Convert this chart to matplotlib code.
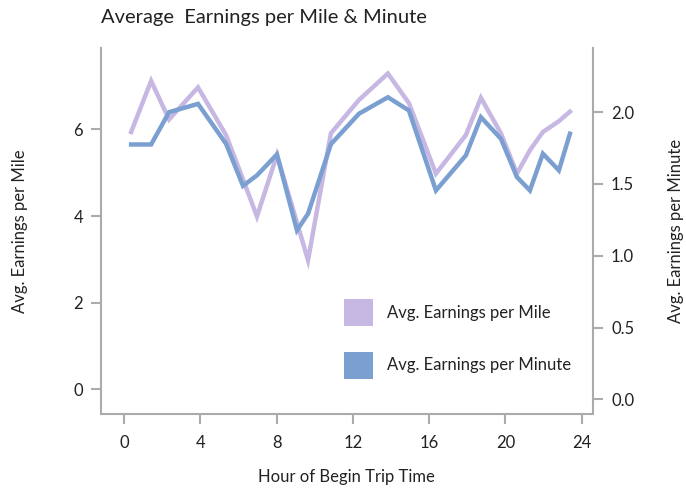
import matplotlib
matplotlib.use('Agg')
import matplotlib.pyplot as plt
from matplotlib.patches import Patch

# data
hours = [0.37, 1.42, 2.36, 3.88, 5.35, 6.24, 6.97, 8.02, 9.07, 9.65, 10.85, 12.32,
         13.84, 14.94, 16.36, 17.93, 18.72, 19.77, 20.61, 21.29, 21.97, 22.81, 23.39]
per_mile = [5.94, 7.12, 6.23, 6.97, 5.87, 4.85, 3.99, 5.41, 3.85, 2.98, 5.91, 6.68,
            7.29, 6.61, 4.98, 5.87, 6.73, 5.91, 4.98, 5.52, 5.94, 6.19, 6.41]
per_minute = [1.775, 1.775, 2.0, 2.058, 1.78, 1.487, 1.56, 1.706, 1.177, 1.293, 1.777, 1.989,
              2.104, 2.012, 1.455, 1.699, 1.965, 1.815, 1.548, 1.455, 1.711, 1.595, 1.85]

purple = '#c7b7e3'
blue = '#7b9fd0'
grey = '#ababab'
txt = '#222222'

plt.rcParams['font.family'] = ['Lato', 'DejaVu Sans']

fig = plt.figure(figsize=(6.86, 4.91), dpi=100)
ax = fig.add_axes([101/686, 1-414/491, (593-101)/686, (414-48)/491])
ax2 = ax.twinx()

ax.plot(hours, per_mile, color=purple, lw=3.2, solid_joinstyle='miter')
ax2.plot(hours, per_minute, color=blue, lw=3.2, solid_joinstyle='miter')

ax.set_xlim(-1.21, 24.6)
ax.set_ylim(-0.57, 7.88)
ax2.set_ylim(-0.102, 2.447)
ax.set_xticks(range(0, 25, 4))
ax.set_yticks([0, 2, 4, 6])
ax2.set_yticks([0.0, 0.5, 1.0, 1.5, 2.0])
ax2.set_yticklabels(['0.0', '0.5', '1.0', '1.5', '2.0'])

for a in (ax, ax2):
    a.spines['top'].set_visible(False)
    for s in ('left', 'right', 'bottom'):
        a.spines[s].set_color(grey)
        a.spines[s].set_linewidth(1.5)
    a.tick_params(colors=grey, labelcolor=txt, length=7, width=1.5, labelsize=12, pad=6)
ax.tick_params(axis='x', pad=8)
ax.spines['right'].set_visible(False)
ax2.spines['left'].set_visible(False)
ax2.spines['bottom'].set_visible(False)

# axis titles placed where the reference has them
fig.text(346/686, 1-477/491, 'Hour of Begin Trip Time', fontsize=12, color=txt,
         ha='center', va='center')
fig.text(20/686, 1-231/491, 'Avg. Earnings per Mile', fontsize=12, color=txt,
         ha='center', va='center', rotation=90)
fig.text(676/686, 1-231/491, 'Avg. Earnings per Minute', fontsize=12, color=txt,
         ha='center', va='center', rotation=90)

fig.text(101/686, 1-18/491, 'Average  Earnings per Mile & Minute', fontsize=14.5,
         color=txt, ha='left', va='center')

handles = [Patch(facecolor=purple, edgecolor='none', label='Avg. Earnings per Mile'),
           Patch(facecolor=blue, edgecolor='none', label='Avg. Earnings per Minute')]
ax2.legend(handles=handles, loc='upper left', bbox_to_anchor=(344/686, 1-299/491),
           bbox_transform=fig.transFigure, frameon=False, borderpad=0, borderaxespad=0,
           handlelength=1.75, handleheight=2.1, labelspacing=1.55, handletextpad=0.85,
           fontsize=12, labelcolor=txt)

plt.savefig('out.png', dpi=100)
